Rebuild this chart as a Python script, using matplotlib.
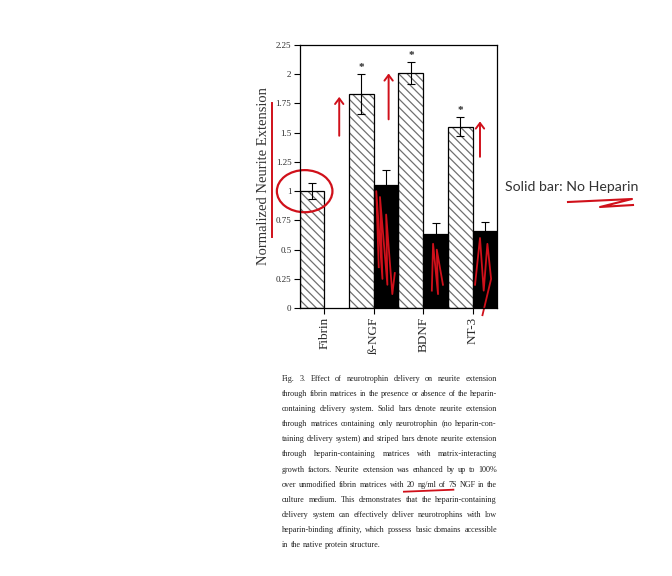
import matplotlib
matplotlib.use('Agg')
import matplotlib.pyplot as plt
import numpy as np
from matplotlib.patches import Ellipse, FancyArrowPatch
from matplotlib.lines import Line2D

# values
groups = ['Fibrin', 'ß-NGF', 'BDNF', 'NT-3']
with_heparin = [1.00, 1.83, 2.01, 1.55]       # striped bars
with_heparin_err = [0.07, 0.17, 0.09, 0.08]
no_heparin = [np.nan, 1.05, 0.63, 0.66]       # solid bars
no_heparin_err = [np.nan, 0.13, 0.10, 0.08]
significant = [False, True, True, True]
yticks = [0, 0.25, 0.5, 0.75, 1, 1.25, 1.5, 1.75, 2, 2.25]

caption = [
    "Fig. 3. Effect of neurotrophin delivery on neurite extension",
    "through fibrin matrices in the presence or absence of the heparin-",
    "containing delivery system. Solid bars denote neurite extension",
    "through matrices containing only neurotrophin (no heparin-con-",
    "taining delivery system) and striped bars denote neurite extension",
    "through heparin-containing matrices with matrix-interacting",
    "growth factors. Neurite extension was enhanced by up to 100%",
    "over unmodified fibrin matrices with 20 ng/ml of 7S NGF in the",
    "culture medium. This demonstrates that the heparin-containing",
    "delivery system can effectively deliver neurotrophins with low",
    "heparin-binding affinity, which possess basic domains accessible",
    "in the native protein structure.",
]

serif = 'Liberation Serif'
txt = '#2a2a2a'
ink = '#d0101a'
plt.rcParams['hatch.linewidth'] = 0.9

fig = plt.figure(figsize=(6.72, 5.76), dpi=100)
ax = fig.add_axes([0.446, 0.465, 0.294, 0.457])

pos = np.arange(len(groups)) * 2 + 1
ax.bar(pos - 0.5, with_heparin, width=1, color='white', edgecolor='#707070',
       hatch='\\' * 4, linewidth=0)
ax.bar(pos - 0.5, with_heparin, width=1, fill=False, edgecolor='black', linewidth=0.9)
ax.bar(pos + 0.5, no_heparin, width=1, color='black', edgecolor='black', linewidth=0.9)
ax.errorbar(pos - 0.5, with_heparin, yerr=with_heparin_err, fmt='none',
            ecolor='black', elinewidth=0.8, capsize=2.6, capthick=0.8)
ax.errorbar(pos + 0.5, no_heparin, yerr=no_heparin_err, fmt='none',
            ecolor='black', elinewidth=0.8, capsize=2.6, capthick=0.8)
for p, v, e, s in zip(pos, with_heparin, with_heparin_err, significant):
    if s:
        ax.text(p - 0.5, v + e + 0.02, '*', ha='center', va='bottom',
                fontsize=8, fontweight='bold', family=serif, color=txt)

ax.set_xlim(0, 8)
ax.set_ylim(0, 2.25)
ax.set_yticks(yticks)
ax.set_yticklabels(['{:g}'.format(t) for t in yticks], family=serif, fontsize=6.5, color=txt)
ax.set_xticks(pos)
ax.set_xticklabels(groups, rotation=90, family=serif, fontsize=9.5, color=txt)
ax.tick_params(axis='both', direction='out', length=4, width=0.8, pad=2)
for sp in ax.spines.values():
    sp.set_linewidth(0.9)
ax.set_ylabel('Normalized Neurite Extension', family=serif, fontsize=10.5,
              color='#333', labelpad=4)

# pen annotations from the slide
ax.add_patch(Ellipse((0.2, 1.0), 2.25, 0.36, fill=False, edgecolor=ink,
                     linewidth=1.6, clip_on=False))
for x, y0, y1 in [(1.6, 1.45, 1.83), (3.6, 1.59, 2.03), (7.3, 1.27, 1.62)]:
    ax.add_patch(FancyArrowPatch((x, y0), (x, y1), arrowstyle='->,head_width=3,head_length=4',
                                 color=ink, linewidth=1.4, clip_on=False))
scribbles = [
    ([3.2, 3.1, 3.35, 3.25, 3.55, 3.5, 3.75, 3.85],
     [0.35, 1.0, 0.25, 0.95, 0.2, 0.8, 0.12, 0.3]),
    ([5.35, 5.4, 5.6, 5.55, 5.8],
     [0.15, 0.55, 0.12, 0.5, 0.2]),
    ([7.1, 7.3, 7.45, 7.6, 7.75, 7.4],
     [0.2, 0.6, 0.15, 0.55, 0.25, -0.06]),
]
for xs, ys in scribbles:
    ax.plot(xs, ys, color=ink, linewidth=1.3, clip_on=False)
fig.add_artist(Line2D([272 / 672, 272 / 672], [1 - 103 / 576, 1 - 237 / 576],
                      color=ink, linewidth=1.4))

fig.text(505 / 672, 1 - 187 / 576, 'Solid bar: No Heparin', family='Lato',
         fontsize=10.2, color='#333', va='center')
fig.add_artist(Line2D([568 / 672, 632 / 672, 600 / 672, 633 / 672],
                      [1 - 202 / 576, 1 - 199 / 576, 1 - 207 / 576, 1 - 205 / 576],
                      color=ink, linewidth=1.5))

# justified caption block
fig.canvas.draw()
renderer = fig.canvas.get_renderer()
figw, figh = fig.bbox.width, fig.bbox.height
x0, x1 = 282 / 672, 497 / 672
W = (x1 - x0) * figw
fs0 = 8
widest = 0
for line in caption:
    t = fig.text(0, 0, line, fontsize=fs0, family=serif)
    widest = max(widest, t.get_window_extent(renderer).width)
    t.remove()
fs = fs0 * W / widest
space = fs * 0.25 * 100 / 72
y = 1 - 381 / 576
underline = None
for i, line in enumerate(caption):
    words = line.split()
    texts = [fig.text(0, y, w, fontsize=fs, family=serif, color='#222', va='baseline')
             for w in words]
    widths = [t.get_window_extent(renderer).width for t in texts]
    if i < len(caption) - 1:
        gap = (W - sum(widths)) / (len(words) - 1)
    else:
        gap = space
    x = x0 * figw
    starts = []
    for t, w in zip(texts, widths):
        t.set_x(x / figw)
        starts.append(x)
        x += w + gap
    if '20 ng/ml' in line:
        k = words.index('20')
        underline = (starts[k] - 3, starts[k + 3] + widths[k + 3] * 0.6, y - 4 / figh)
    y -= 15.1 / 576

if underline:
    ua, ub, uy = underline
    fig.add_artist(Line2D([ua / figw, ub / figw], [uy - 1 / figh, uy + 1 / figh],
                          color=ink, linewidth=1.3))

fig.savefig('out.png', dpi=100)
